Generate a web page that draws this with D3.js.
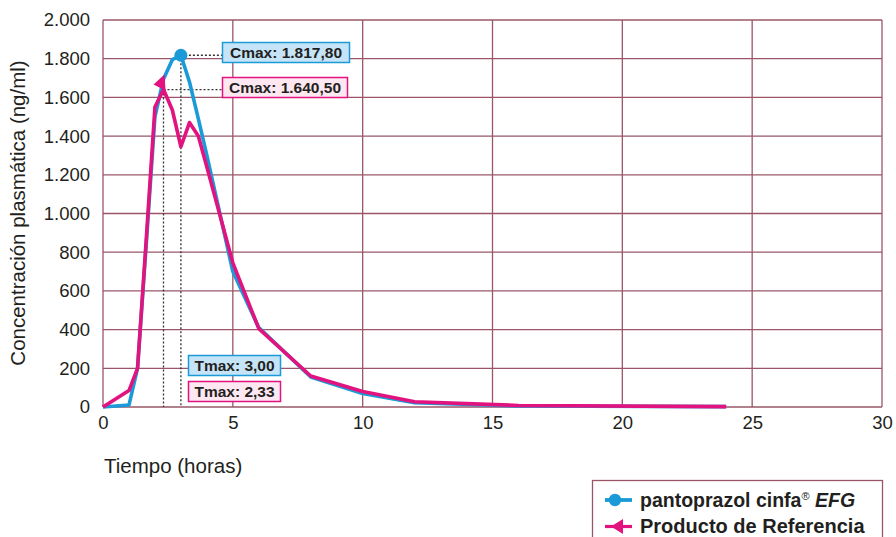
<!DOCTYPE html>
<html><head><meta charset="utf-8">
<script src="https://cdn.jsdelivr.net/npm/d3@7"></script>
<style>body{margin:0;background:#fff}svg{display:block}</style>
</head><body>
<svg id="c" width="896" height="537"></svg>
<script>
const times = [0, 1, 1.33, 1.67, 2, 2.33, 2.67, 3, 3.33, 3.67, 4, 5, 6, 8, 10, 12, 16, 24];
const cinfa = [0, 10, 200, 850, 1500, 1695, 1795, 1817.8, 1680, 1490, 1300, 700, 410, 155, 70, 22, 5, 2];
const referencia = [0, 85, 200, 875, 1550, 1640.5, 1535, 1345, 1470, 1400, 1240, 745, 405, 160, 80, 27, 8, 2];
const xTicks = [0, 5, 10, 15, 20, 25, 30];
const yTicks = [0, 200, 400, 600, 800, 1000, 1200, 1400, 1600, 1800, 2000];
const peaks = [
  {t: 3.00, c: 1817.8, cLabel: "Cmax: 1.817,80", tLabel: "Tmax: 3,00", series: "cinfa"},
  {t: 2.33, c: 1640.5, cLabel: "Cmax: 1.640,50", tLabel: "Tmax: 2,33", series: "ref"}
];

const BLUE = "#1b9ad8", PINK = "#e2127f", GRID = "#9a5668", TXT = "#231f20";
const svg = d3.select("#c");
const x = d3.scaleLinear().domain([0, 30]).range([103, 882]);
const y = d3.scaleLinear().domain([0, 2000]).range([407, 20]);
const font = "'Liberation Sans', Arial, Helvetica, sans-serif";

// grid
const g = svg.append("g");
g.selectAll(".hg").data(yTicks).join("line")
  .attr("x1", x(0)).attr("x2", x(30)).attr("y1", d => y(d)).attr("y2", d => y(d))
  .attr("stroke", GRID).attr("stroke-width", 1.3);
g.selectAll(".vg").data(xTicks).join("line")
  .attr("x1", d => x(d)).attr("x2", d => x(d)).attr("y1", y(0)).attr("y2", y(2000))
  .attr("stroke", GRID).attr("stroke-width", 1.3);

// axes labels via d3 axes
const fmt = d => d3.format(",")(d).replace(/,/g, ".");
const ya = svg.append("g").attr("transform", `translate(${x(0)},0)`)
  .call(d3.axisLeft(y).tickValues(yTicks).tickFormat(fmt).tickSize(0).tickPadding(13));
const xa = svg.append("g").attr("transform", `translate(0,${y(0)})`)
  .call(d3.axisBottom(x).tickValues(xTicks).tickSize(0).tickPadding(9));
[ya, xa].forEach(a => {
  a.select(".domain").remove();
  a.selectAll("text").attr("font-family", font).attr("font-size", 18.5).attr("fill", TXT);
});

svg.append("text").attr("transform", `translate(25,213) rotate(-90)`)
  .attr("text-anchor", "middle").attr("font-family", font).attr("font-size", 20.5).attr("fill", TXT)
  .text("Concentración plasmática (ng/ml)");
svg.append("text").attr("x", 104).attr("y", 473)
  .attr("font-family", font).attr("font-size", 20.5).attr("fill", TXT)
  .text("Tiempo (horas)");

// dotted guides
const guides = svg.append("g").attr("stroke", "#333").attr("stroke-width", 1.3).attr("stroke-dasharray", "2,2").attr("fill", "none");
peaks.forEach(p => {
  guides.append("line").attr("x1", x(p.t)).attr("x2", x(p.t)).attr("y1", y(p.c)).attr("y2", y(0));
  guides.append("line").attr("x1", x(p.t)).attr("x2", 222).attr("y1", y(p.c)).attr("y2", y(p.c));
});

// lines
const line = d3.line().x((d, i) => x(times[i])).y(d => y(d));
svg.append("path").datum(cinfa).attr("d", line).attr("fill", "none")
  .attr("stroke", BLUE).attr("stroke-width", 3.6).attr("stroke-linejoin", "round");
svg.append("path").datum(referencia).attr("d", line).attr("fill", "none")
  .attr("stroke", PINK).attr("stroke-width", 3.6).attr("stroke-linejoin", "round");

// markers
svg.append("circle").attr("cx", x(peaks[0].t)).attr("cy", y(peaks[0].c)).attr("r", 6.5).attr("fill", BLUE);
svg.append("path").attr("transform", `translate(${x(peaks[1].t)},${y(peaks[1].c)})`)
  .attr("d", "M-10,-5 L1,-15 L2,1 Z").attr("fill", PINK);

// label boxes
function box(bx, by, w, h, fill, stroke, label) {
  svg.append("rect").attr("x", bx).attr("y", by).attr("width", w).attr("height", h)
    .attr("fill", fill).attr("stroke", stroke).attr("stroke-width", 1.5);
  svg.append("text").attr("x", bx + w / 2).attr("y", by + h / 2 + 5.5).attr("text-anchor", "middle")
    .attr("font-family", font).attr("font-weight", "bold").attr("font-size", 15.5).attr("fill", TXT).text(label);
}
box(222.5, 42.5, 127, 20, "#c6e4f7", BLUE, peaks[0].cLabel);
box(222.5, 77.5, 125, 20, "#fde7f1", PINK, peaks[1].cLabel);
box(188.5, 355.5, 92, 20, "#c6e4f7", BLUE, peaks[0].tLabel);
box(188.5, 381.5, 92, 20, "#fde7f1", PINK, peaks[1].tLabel);

// legend
const lg = svg.append("g");
lg.append("rect").attr("x", 592.5).attr("y", 480.5).attr("width", 290).attr("height", 70)
  .attr("fill", "#fff").attr("stroke", GRID).attr("stroke-width", 1.3);
lg.append("line").attr("x1", 605).attr("x2", 632).attr("y1", 500).attr("y2", 500).attr("stroke", BLUE).attr("stroke-width", 3.8);
lg.append("circle").attr("cx", 615).attr("cy", 500).attr("r", 6.2).attr("fill", BLUE);
lg.append("line").attr("x1", 605).attr("x2", 632).attr("y1", 526.5).attr("y2", 526.5).attr("stroke", PINK).attr("stroke-width", 3.2);
lg.append("path").attr("transform", "translate(617,526.5)").attr("d", "M-6,0 L6,-7.5 L6,7.5 Z").attr("fill", PINK);
const t1 = lg.append("text").attr("x", 640).attr("y", 507).attr("font-family", font).attr("font-size", 19.5)
  .attr("font-weight", "bold").attr("fill", TXT);
t1.append("tspan").text("pantoprazol cinfa");
t1.append("tspan").text("®").attr("font-size", 11).attr("font-weight", "normal").attr("dy", -7);
t1.append("tspan").text(" EFG").attr("font-style", "italic").attr("dy", 7);
lg.append("text").attr("x", 640).attr("y", 533).attr("font-family", font).attr("font-size", 20)
  .attr("font-weight", "bold").attr("fill", TXT).text("Producto de Referencia");
</script>
</body></html>
